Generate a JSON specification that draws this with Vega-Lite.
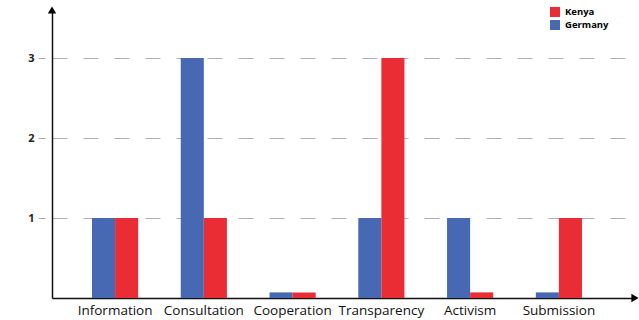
{
  "$schema": "https://vega.github.io/schema/vega-lite/v6.json",
  "width": 583,
  "height": 288,
  "autosize": "none",
  "padding": {"left": 52, "top": 10, "right": 4, "bottom": 22},
  "background": "white",
  "config": {"view": {"stroke": null}, "font": "Open Sans"},
  "data": {"values": [
    {"category": "Information", "country": "Germany", "value": 1},
    {"category": "Information", "country": "Kenya", "value": 1},
    {"category": "Consultation", "country": "Germany", "value": 3},
    {"category": "Consultation", "country": "Kenya", "value": 1},
    {"category": "Cooperation", "country": "Germany", "value": 0.07},
    {"category": "Cooperation", "country": "Kenya", "value": 0.07},
    {"category": "Transparency", "country": "Germany", "value": 1},
    {"category": "Transparency", "country": "Kenya", "value": 3},
    {"category": "Activism", "country": "Germany", "value": 1},
    {"category": "Activism", "country": "Kenya", "value": 0.07},
    {"category": "Submission", "country": "Germany", "value": 0.07},
    {"category": "Submission", "country": "Kenya", "value": 1}
  ]},
  "layer": [
    {
      "mark": {"type": "bar"},
      "encoding": {
        "x": {"field": "category", "type": "nominal", "sort": null,
          "scale": {"paddingInner": 0.48, "paddingOuter": 0.524, "align": 0.43},
          "axis": {"title": null, "labelAngle": 0, "ticks": false, "labelPadding": 5, "labelFontSize": 13.5, "labelColor": "#111", "domainColor": "#111", "domainWidth": 1.5, "grid": false}},
        "xOffset": {"field": "country", "type": "nominal", "scale": {"domain": ["Germany", "Kenya"]}},
        "y": {"field": "value", "type": "quantitative",
          "scale": {"domain": [0, 3.6], "nice": false},
          "axis": {"title": null, "values": [1, 2, 3], "format": "d", "labelFontSize": 11, "labelFontWeight": "bold", "labelColor": "#222", "labelPadding": 4,
            "tickSize": 14, "tickColor": "#aaa", "tickDash": [7, 7], "tickDashOffset": 7,
            "domainColor": "#111", "domainWidth": 1.5,
            "grid": true, "gridColor": "#b0b0b0", "gridDash": [15, 16], "gridWidth": 1}},
        "color": {"field": "country", "type": "nominal",
          "scale": {"domain": ["Kenya", "Germany"], "range": ["#ea2d35", "#4769b3"]},
          "legend": {"title": null, "orient": "none", "legendX": 498, "legendY": -3, "symbolType": "square", "symbolSize": 100, "labelFontSize": 9.5, "labelFontWeight": "bold", "rowPadding": 3, "symbolStrokeWidth": 0, "labelOffset": 5}}
      }
    },
    {
      "data": {"values": [{"px": 0, "py": 3.6, "shape": "triangle-up"}, {"px": 1, "py": 0, "shape": "triangle-right"}]},
      "mark": {"type": "point", "filled": true, "color": "black", "size": 70, "opacity": 1},
      "encoding": {
        "x": {"field": "px", "type": "quantitative", "scale": {"domain": [0, 1]}, "axis": null},
        "y": {"field": "py", "type": "quantitative"},
        "shape": {"field": "shape", "type": "nominal", "scale": null}
      }
    }
  ],
  "resolve": {"scale": {"x": "independent"}}
}
